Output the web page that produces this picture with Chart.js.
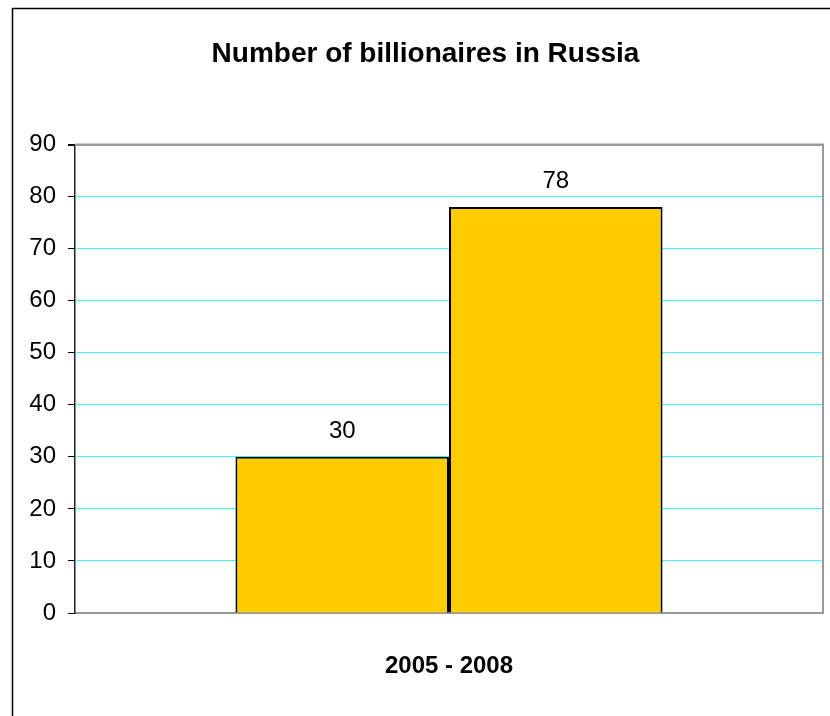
<!DOCTYPE html>
<html>
<head>
<meta charset="utf-8">
<title>Number of billionaires in Russia</title>
<script src="https://cdn.jsdelivr.net/npm/chart.js@4.4.1/dist/chart.umd.min.js"></script>
<style>
    html, body { margin: 0; padding: 0; background: #fff; }
    #wrap { width: 830px; height: 716px; }
</style>
</head>
<body>
<div id="wrap"><canvas id="chart"></canvas></div>
<script>
// chart data
const categories = ['2005 - 2008'];
const seriesNames = ['2005', '2008'];
const values2005 = [30];
const values2008 = [78];
const yTicks = [0, 10, 20, 30, 40, 50, 60, 70, 80, 90];

const fontFamily = "'Liberation Sans', Arial, sans-serif";

// outer chart border, offset like the original
const outerBorder = {
    id: 'outerBorder',
    beforeDraw(chart) {
        const ctx = chart.ctx;
        ctx.save();
        ctx.strokeStyle = '#000';
        ctx.lineWidth = 1.5;
        ctx.strokeRect(12.5, 8.5, chart.width + 20, chart.height + 20);
        ctx.restore();
    }
};

// gray frame on top and right of the plot area
const plotFrame = {
    id: 'plotFrame',
    beforeDatasetsDraw(chart) {
        const a = chart.chartArea;
        const ctx = chart.ctx;
        ctx.save();
        ctx.strokeStyle = '#999';
        ctx.lineWidth = 2;
        ctx.beginPath();
        ctx.moveTo(a.left, a.top);
        ctx.lineTo(a.right, a.top);
        ctx.lineTo(a.right, a.bottom);
        ctx.stroke();
        ctx.restore();
    }
};

// value labels above the bars
const valueLabels = {
    id: 'valueLabels',
    afterDatasetsDraw(chart) {
        const ctx = chart.ctx;
        ctx.save();
        ctx.font = '24px ' + fontFamily;
        ctx.fillStyle = '#000';
        ctx.textAlign = 'center';
        ctx.textBaseline = 'alphabetic';
        chart.data.datasets.forEach((ds, i) => {
            chart.getDatasetMeta(i).data.forEach((bar, j) => {
                ctx.fillText(ds.data[j], bar.x, bar.y - 19);
            });
        });
        ctx.restore();
    }
};

const ctx = document.getElementById('chart').getContext('2d');
const chart = new Chart(ctx, {
    type: 'bar',
    data: {
        labels: categories,
        datasets: [{
            label: seriesNames[0],
            data: values2005,
            backgroundColor: '#ffcc00',
            borderColor: '#000',
            borderWidth: 2
        }, {
            label: seriesNames[1],
            data: values2008,
            backgroundColor: '#ffcc00',
            borderColor: '#000',
            borderWidth: 2
        }]
    },
    options: {
        responsive: true,
        maintainAspectRatio: false,
        animation: false,
        devicePixelRatio: 1,
        layout: {
            padding: { left: 28, right: 7, top: 0, bottom: 34 }
        },
        datasets: {
            bar: {
                categoryPercentage: 0.571,
                barPercentage: 1
            }
        },
        plugins: {
            legend: { display: false },
            tooltip: { enabled: false },
            title: {
                display: true,
                text: 'Number of billionaires in Russia',
                color: '#000',
                font: { family: fontFamily, size: 28, weight: 'bold' },
                padding: { top: 37, bottom: 74 }
            }
        },
        scales: {
            x: {
                afterFit(scale) {
                    scale.height = 69;
                },
                grid: { display: false, drawTicks: false },
                border: { color: '#999', width: 2 },
                ticks: {
                    color: '#000',
                    padding: 39,
                    font: { family: fontFamily, size: 24, weight: 'bold' }
                }
            },
            y: {
                min: 0,
                max: 90,
                afterBuildTicks(scale) {
                    scale.ticks = yTicks.map(v => ({ value: v }));
                },
                afterFit(scale) {
                    scale.width = 47;
                },
                grid: {
                    color: c => (c.tick && c.tick.value === 90) ? '#999' : '#33ffff',
                    lineWidth: c => (c.tick && c.tick.value === 90) ? 2 : 1,
                    tickColor: '#000',
                    tickLength: 7
                },
                border: { color: '#222', width: 1.5 },
                ticks: {
                    color: '#000',
                    padding: 12,
                    font: { family: fontFamily, size: 24 }
                }
            }
        }
    },
    plugins: [outerBorder, plotFrame, valueLabels]
});
</script>
</body>
</html>
